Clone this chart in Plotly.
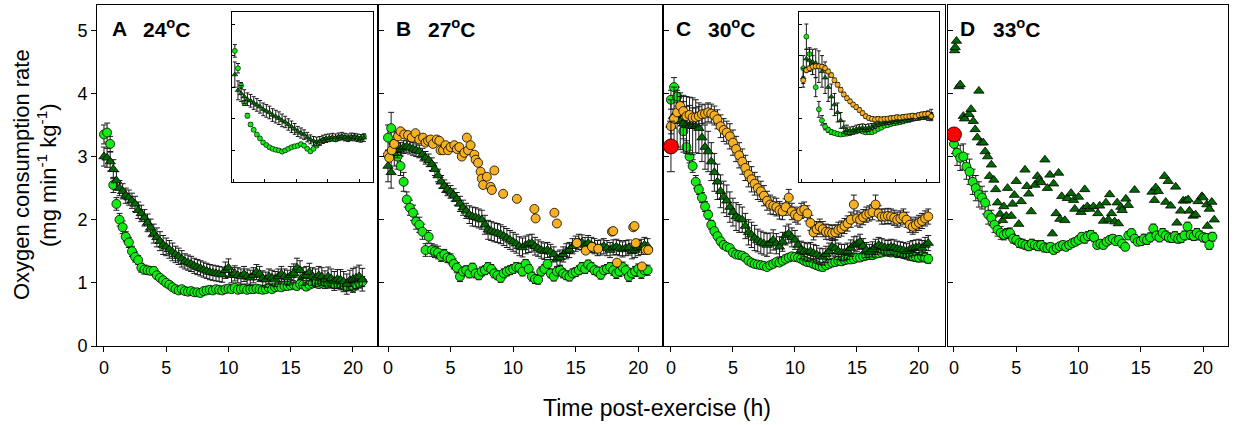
import plotly.graph_objects as go

# ---------------- data ----------------
# regular sampling grid (h) for averaged series
time_h = [i / 4 for i in range(84)]
inset_time_h = [0.25 + i / 2 for i in range(42)]

# Panel A (24 C)
a_light = [3.35,3.38,3.2,2.55,2.25,2.0,1.88,1.73,1.64,1.5,1.41,1.36,
           1.24,1.21,1.2,1.19,1.19,1.12,1.08,1.04,1.0,0.97,0.93,0.9,
           0.88,0.9,0.87,0.86,0.87,0.85,0.85,0.84,0.87,0.88,0.89,0.88,
           0.9,0.89,0.88,0.9,0.91,0.9,0.92,0.89,0.9,0.91,0.89,0.9,
           0.9,0.91,0.9,0.89,0.9,0.92,0.9,0.93,0.94,0.93,0.95,0.95,
           0.96,0.97,0.95,0.98,0.97,0.94,0.97,0.99,1.0,0.98,1.0,1.01,
           0.99,1.0,0.98,1.0,0.99,0.97,0.95,0.98,0.93,0.97,1.0,1.02]
a_light_err = [0.15,0.15,0.12,0.12,0.1,0.1,0.1,0.08,0.08,0.08,0.08,0.07,
               0.07,0.07,0.06,0.06,0.06,0.05,0.05,0.05,0.05,0.05,0.04,0.04,
               0.04,0.04,0.04,0.04,0.04,0.04,0.04,0.04,0.04,0.04,0.04,0.04,
               0.04,0.04,0.04,0.04,0.04,0.04,0.04,0.04,0.04,0.04,0.04,0.04,
               0.05,0.05,0.05,0.05,0.05,0.05,0.05,0.05,0.05,0.05,0.05,0.05,
               0.05,0.05,0.06,0.06,0.06,0.06,0.06,0.06,0.06,0.06,0.06,0.06,
               0.07,0.07,0.07,0.07,0.08,0.08,0.08,0.08,0.08,0.08,0.08,0.08]
a_dark = [3.0,2.98,2.92,2.8,2.62,2.5,2.45,2.38,2.35,2.3,2.25,2.15,
          2.1,2.03,1.95,1.87,1.78,1.72,1.66,1.6,1.57,1.53,1.49,1.45,
          1.42,1.38,1.34,1.32,1.3,1.27,1.25,1.23,1.21,1.19,1.17,1.16,
          1.15,1.14,1.13,1.2,1.24,1.12,1.15,1.12,1.1,1.14,1.1,1.08,
          1.12,1.17,1.14,1.07,1.05,1.1,1.08,1.06,1.1,1.14,1.1,1.08,
          1.12,1.15,1.24,1.2,1.1,1.12,1.17,1.1,1.08,1.12,1.1,1.05,
          1.1,1.07,1.03,1.06,1.05,1.02,0.98,1.04,1.06,1.08,1.1,1.05]
a_dark_err = [0.15,0.15,0.15,0.15,0.14,0.12,0.12,0.12,0.12,0.12,0.12,0.13,
              0.13,0.13,0.14,0.14,0.15,0.15,0.15,0.15,0.14,0.14,0.14,0.13,
              0.13,0.13,0.12,0.12,0.12,0.12,0.12,0.12,0.12,0.12,0.12,0.12,
              0.12,0.12,0.12,0.13,0.14,0.12,0.12,0.12,0.12,0.12,0.12,0.12,
              0.12,0.12,0.12,0.12,0.12,0.12,0.12,0.12,0.12,0.12,0.12,0.12,
              0.14,0.15,0.15,0.15,0.14,0.14,0.14,0.14,0.14,0.14,0.14,0.14,
              0.15,0.15,0.15,0.15,0.16,0.16,0.16,0.16,0.17,0.17,0.18,0.18]
ia_light = [4.15,3.6,3.05,2.5,2.1,1.82,1.65,1.5,1.38,1.25,1.17,1.1,1.05,1.02,
            1.0,0.96,1.0,1.05,1.1,1.13,1.15,1.2,1.15,1.05,0.97,1.05,1.15,1.25,
            1.32,1.35,1.35,1.38,1.35,1.4,1.42,1.4,1.38,1.4,1.42,1.38,1.37,1.45]
ia_light_err = [0.2,0.15,0.1,0.08,0.07,0.06,0.05,0.05,0.05,0.05,0.05,0.05,0.05,0.05,
                0.05,0.05,0.05,0.05,0.05,0.05,0.05,0.05,0.05,0.05,0.05,0.05,0.05,0.05,
                0.06,0.06,0.06,0.06,0.06,0.06,0.06,0.06,0.06,0.06,0.06,0.06,0.06,0.06]
ia_dark = [3.4,2.9,2.8,2.7,2.62,2.57,2.5,2.44,2.38,2.3,2.25,2.2,2.12,2.07,
           2.02,1.95,1.9,1.82,1.75,1.68,1.6,1.55,1.5,1.42,1.35,1.3,1.28,1.3,
           1.35,1.38,1.4,1.42,1.4,1.43,1.45,1.42,1.4,1.43,1.42,1.4,1.38,1.4]
ia_dark_err = [0.4,0.3,0.25,0.22,0.2,0.2,0.2,0.2,0.2,0.2,0.2,0.2,0.2,0.2,
               0.2,0.2,0.18,0.18,0.18,0.17,0.16,0.16,0.15,0.15,0.14,0.14,0.14,0.14,
               0.13,0.13,0.12,0.12,0.12,0.12,0.12,0.12,0.12,0.12,0.12,0.12,0.12,0.12]

# Panel B (27 C)
b_light = [3.3,3.45,3.2,3.0,2.85,2.6,2.32,2.19,2.11,1.97,1.92,1.81,
           1.52,1.73,1.52,1.5,1.48,1.42,1.45,1.4,1.38,1.3,1.24,1.1,
           1.18,1.2,1.15,1.24,1.15,1.12,1.18,1.2,1.25,1.22,1.15,1.12,
           1.08,1.15,1.18,1.2,1.22,1.25,1.24,1.18,1.3,1.22,1.1,1.06,
           1.05,1.18,1.22,1.3,1.15,1.1,1.18,1.2,1.15,1.12,1.1,1.15,
           1.17,1.2,1.25,1.22,1.29,1.25,1.2,1.18,1.13,1.2,1.22,1.25,
           1.2,1.15,1.18,1.25,1.2,1.1,1.15,1.18,1.22,1.15,1.2,1.2]
b_light_err = [0.2,0.25,0.2,0.2,0.15,0.15,0.12,0.12,0.12,0.12,0.12,0.12,
               0.1,0.1,0.1,0.1,0.1,0.08,0.08,0.08,0.08,0.08,0.08,0.08,
               0.07,0.07,0.07,0.07,0.07,0.07,0.07,0.07,0.07,0.07,0.07,0.07,
               0.07,0.07,0.07,0.07,0.07,0.07,0.07,0.07,0.07,0.07,0.07,0.07,
               0.07,0.07,0.07,0.07,0.07,0.07,0.07,0.07,0.07,0.07,0.07,0.07,
               0.07,0.07,0.07,0.07,0.07,0.07,0.07,0.07,0.07,0.07,0.07,0.07,
               0.08,0.08,0.08,0.08,0.08,0.08,0.08,0.08,0.08,0.08,0.08,0.08]
b_dark = [2.85,2.75,3.05,3.1,3.12,3.15,3.16,3.14,3.12,3.1,3.08,3.03,
          2.98,2.94,2.88,2.8,2.7,2.6,2.53,2.48,2.44,2.39,2.33,2.25,
          2.19,2.14,2.08,2.05,2.04,2.02,2.0,1.92,1.84,1.82,1.8,1.79,
          1.77,1.74,1.71,1.68,1.65,1.62,1.58,1.56,1.6,1.62,1.63,1.58,
          1.55,1.52,1.5,1.52,1.49,1.45,1.38,1.4,1.45,1.5,1.52,1.58,
          1.62,1.65,1.64,1.6,1.63,1.6,1.58,1.55,1.56,1.58,1.55,1.52,
          1.56,1.57,1.55,1.53,1.55,1.56,1.5,1.52,1.55,1.57,1.6,1.58]
b_dark_err = [0.25,0.25,0.2,0.12,0.1,0.1,0.1,0.1,0.1,0.1,0.1,0.1,
              0.1,0.1,0.1,0.1,0.1,0.1,0.1,0.1,0.1,0.1,0.1,0.12,
              0.12,0.12,0.14,0.15,0.15,0.15,0.15,0.15,0.15,0.15,0.15,0.15,
              0.15,0.15,0.15,0.15,0.15,0.15,0.15,0.15,0.14,0.14,0.14,0.14,
              0.13,0.13,0.13,0.12,0.12,0.12,0.12,0.12,0.12,0.12,0.12,0.12,
              0.12,0.12,0.12,0.12,0.12,0.12,0.12,0.12,0.12,0.12,0.12,0.12,
              0.12,0.12,0.12,0.12,0.12,0.12,0.12,0.12,0.12,0.12,0.12,0.12]
b_orange_t = [0.0,0.1,0.3,0.5,0.8,1.0,1.3,1.6,1.9,2.2,2.5,2.8,3.0,3.2,3.4,
              3.6,3.9,4.1,4.2,4.4,4.6,4.8,5.0,5.3,5.5,5.7,5.9,6.1,6.3,6.4,
              6.6,6.9,7.0,7.2,7.4,7.5,7.6,7.9,8.2,8.3,8.5,9.2,10.3,11.7,11.8,
              13.3,13.5,15.1,15.8,16.3,16.8,17.9,18.0,18.3,19.6,19.7,19.8,20.3,20.6,20.8]
b_orange = [3.03,2.98,3.1,3.2,3.32,3.4,3.35,3.34,3.3,3.37,3.27,3.3,3.22,3.25,3.27,
            3.2,3.27,3.25,3.1,3.1,3.18,3.1,3.15,3.18,3.12,3.15,3.0,3.06,3.3,3.1,
            3.18,3.03,2.95,2.9,2.76,2.65,2.55,2.68,2.52,2.47,2.78,2.41,2.33,2.17,2.02,
            2.11,1.94,1.63,1.51,1.57,1.54,1.81,1.82,1.32,1.88,1.9,1.63,1.26,1.52,1.52]

# Panel C (30 C)
c_light = [3.9,4.1,3.95,3.7,3.4,3.15,3.0,2.85,2.6,2.48,2.35,2.21,
           2.08,1.92,1.82,1.74,1.66,1.6,1.57,1.55,1.48,1.45,1.44,1.43,
           1.4,1.35,1.32,1.3,1.29,1.28,1.27,1.25,1.28,1.3,1.33,1.32,
           1.35,1.38,1.4,1.42,1.41,1.4,1.38,1.35,1.33,1.32,1.3,1.28,
           1.26,1.25,1.28,1.3,1.32,1.33,1.35,1.34,1.36,1.37,1.37,1.38,
           1.4,1.4,1.42,1.43,1.44,1.44,1.46,1.47,1.48,1.5,1.49,1.48,
           1.5,1.47,1.48,1.46,1.45,1.43,1.42,1.41,1.4,1.42,1.4,1.38]
c_light_err = [0.15,0.15,0.15,0.12,0.12,0.1,0.1,0.1,0.1,0.08,0.08,0.08,
               0.07,0.07,0.06,0.06,0.06,0.05,0.05,0.05,0.05,0.05,0.05,0.05,
               0.05,0.05,0.05,0.05,0.05,0.05,0.05,0.05,0.05,0.05,0.05,0.05,
               0.06,0.06,0.06,0.06,0.06,0.06,0.06,0.06,0.06,0.06,0.06,0.06,
               0.06,0.06,0.06,0.06,0.06,0.06,0.06,0.06,0.06,0.06,0.06,0.06,
               0.06,0.06,0.06,0.06,0.06,0.06,0.06,0.06,0.06,0.06,0.06,0.06,
               0.07,0.07,0.07,0.07,0.07,0.07,0.07,0.07,0.07,0.07,0.07,0.07]
c_dark = [3.5,3.65,3.6,3.56,3.52,3.5,3.49,3.48,3.48,3.45,3.3,3.15,
          3.08,2.92,2.75,2.6,2.45,2.36,2.3,2.2,2.12,2.05,2.02,2.0,
          1.9,1.8,1.76,1.71,1.67,1.64,1.62,1.6,1.63,1.68,1.62,1.57,
          1.65,1.75,1.78,1.72,1.68,1.6,1.52,1.5,1.48,1.5,1.47,1.45,
          1.42,1.41,1.45,1.5,1.57,1.55,1.5,1.48,1.48,1.5,1.55,1.6,
          1.62,1.65,1.58,1.52,1.49,1.53,1.57,1.6,1.58,1.56,1.55,1.57,
          1.56,1.54,1.53,1.52,1.5,1.53,1.55,1.56,1.57,1.55,1.6,1.63]
c_dark_err = [0.4,0.45,0.45,0.45,0.45,0.45,0.45,0.45,0.42,0.4,0.38,0.35,
              0.32,0.3,0.3,0.28,0.26,0.25,0.25,0.24,0.22,0.22,0.22,0.2,
              0.2,0.2,0.2,0.2,0.18,0.18,0.18,0.18,0.16,0.16,0.16,0.16,
              0.15,0.15,0.15,0.15,0.15,0.14,0.14,0.14,0.14,0.14,0.14,0.14,
              0.13,0.13,0.13,0.13,0.13,0.13,0.13,0.13,0.13,0.13,0.13,0.13,
              0.12,0.12,0.12,0.12,0.12,0.12,0.12,0.12,0.12,0.12,0.12,0.12,
              0.12,0.12,0.12,0.12,0.12,0.12,0.12,0.12,0.12,0.12,0.12,0.12]
c_orange = [3.48,3.6,3.7,3.8,3.72,3.64,3.66,3.62,3.62,3.64,3.67,3.68,
            3.7,3.68,3.65,3.59,3.48,3.42,3.38,3.32,3.22,3.12,3.02,2.92,
            2.82,2.72,2.64,2.57,2.5,2.45,2.38,2.3,2.24,2.22,2.2,2.15,
            2.13,2.2,2.35,2.13,2.08,2.05,2.14,2.16,2.1,1.95,1.8,1.85,
            1.89,1.85,1.81,1.8,1.79,1.8,1.84,1.86,1.9,1.94,2.0,2.24,
            2.02,2.0,2.04,2.08,2.1,2.12,2.24,2.1,2.05,2.05,2.06,2.05,
            2.03,2.0,2.02,2.05,2.0,1.92,1.89,1.92,1.95,1.98,2.02,2.05]
c_orange_err = [0.12,0.15,0.15,0.15,0.15,0.15,0.15,0.15,0.15,0.15,0.15,0.15,
                0.15,0.15,0.15,0.15,0.18,0.18,0.18,0.2,0.2,0.2,0.2,0.2,
                0.2,0.2,0.2,0.18,0.18,0.16,0.16,0.15,0.15,0.14,0.14,0.14,
                0.13,0.13,0.13,0.13,0.12,0.12,0.12,0.12,0.12,0.12,0.12,0.12,
                0.12,0.12,0.12,0.12,0.12,0.12,0.12,0.12,0.12,0.12,0.12,0.15,
                0.12,0.12,0.12,0.12,0.12,0.12,0.15,0.12,0.12,0.12,0.12,0.12,
                0.12,0.12,0.12,0.12,0.12,0.12,0.12,0.12,0.12,0.12,0.12,0.12]
c_red_t = [0.0]
c_red = [3.16]
c_red_err = [0.4]
ic_light = [3.6,4.6,4.05,3.7,3.0,2.3,1.95,1.75,1.65,1.58,1.55,1.52,1.5,1.52,
            1.53,1.55,1.58,1.6,1.64,1.6,1.57,1.58,1.58,1.62,1.68,1.72,1.78,1.8,
            1.84,1.86,1.88,1.9,1.92,1.95,1.97,2.0,2.02,2.04,2.05,2.08,2.1,2.1]
ic_light_err = [0.4,0.4,0.2,0.3,0.3,0.25,0.15,0.1,0.08,0.07,0.06,0.06,0.06,0.06,
                0.06,0.06,0.06,0.06,0.06,0.06,0.06,0.06,0.06,0.06,0.06,0.06,0.06,0.06,
                0.07,0.07,0.07,0.07,0.07,0.07,0.07,0.07,0.07,0.07,0.07,0.07,0.1,0.1]
ic_dark = [3.3,3.9,3.85,3.8,3.76,3.65,3.5,3.3,3.0,2.7,2.45,2.2,1.95,1.73,
           1.65,1.62,1.64,1.68,1.7,1.72,1.7,1.72,1.75,1.8,1.85,1.88,1.9,1.92,
           1.93,1.95,1.96,1.98,2.0,2.0,2.02,2.05,2.05,2.06,2.08,2.1,2.1,2.12]
ic_dark_err = [0.3,0.3,0.35,0.4,0.45,0.5,0.5,0.5,0.45,0.4,0.35,0.3,0.25,0.2,
               0.15,0.12,0.12,0.12,0.12,0.12,0.12,0.12,0.1,0.1,0.1,0.1,0.1,0.1,
               0.1,0.1,0.1,0.1,0.1,0.1,0.1,0.1,0.1,0.1,0.1,0.12,0.15,0.18]
ic_orange = [3.22,3.54,3.6,3.65,3.66,3.66,3.65,3.6,3.5,3.38,3.22,3.08,2.92,2.77,
             2.65,2.55,2.45,2.37,2.28,2.18,2.08,2.03,2.0,1.98,2.0,1.98,2.0,2.0,
             2.02,2.03,2.05,2.04,2.06,2.07,2.08,2.1,2.08,2.12,2.14,2.15,2.16,2.08]
ic_orange_err = [0.1,0.08,0.07,0.07,0.07,0.07,0.07,0.07,0.07,0.07,0.07,0.07,0.07,0.07,
                 0.07,0.07,0.07,0.07,0.07,0.07,0.07,0.07,0.07,0.07,0.07,0.07,0.07,0.07,
                 0.07,0.07,0.07,0.07,0.07,0.07,0.07,0.07,0.07,0.07,0.07,0.07,0.07,0.1]

# Panel D (33 C)
d_light = [3.2,3.06,2.98,3.0,2.84,2.76,2.6,2.5,2.4,2.35,2.27,2.08,
           2.03,1.92,1.84,1.79,1.76,1.78,1.79,1.7,1.68,1.63,1.62,1.6,
           1.58,1.62,1.6,1.58,1.6,1.56,1.55,1.57,1.52,1.55,1.58,1.6,
           1.57,1.6,1.63,1.65,1.68,1.73,1.7,1.74,1.76,1.72,1.6,1.62,
           1.6,1.65,1.68,1.7,1.66,1.68,1.62,1.57,1.75,1.79,1.7,1.65,
           1.66,1.7,1.68,1.72,1.86,1.75,1.72,1.79,1.75,1.72,1.71,1.74,
           1.7,1.71,1.75,1.89,1.76,1.74,1.79,1.75,1.72,1.71,1.6,1.73]
d_light_err = [0.15,0.2,0.2,0.2,0.2,0.2,0.2,0.2,0.2,0.18,0.18,0.15,
               0.12,0.12,0.1,0.1,0.08,0.08,0.08,0.07,0.07,0.07,0.07,0.07,
               0.07,0.07,0.07,0.07,0.07,0.07,0.06,0.06,0.06,0.06,0.06,0.06,
               0.06,0.06,0.06,0.06,0.06,0.06,0.07,0.07,0.07,0.07,0.06,0.06,
               0.06,0.06,0.06,0.06,0.06,0.06,0.06,0.06,0.06,0.06,0.06,0.06,
               0.07,0.07,0.07,0.07,0.07,0.07,0.07,0.07,0.07,0.07,0.07,0.07,
               0.07,0.07,0.07,0.07,0.07,0.07,0.07,0.07,0.07,0.07,0.07,0.07]
d_dark_t = [0.05,0.1,0.2,0.4,0.5,0.75,0.85,1.2,1.37,1.55,1.7,1.87,2.0,2.2,2.35,
            2.5,2.7,2.85,3.0,3.2,3.35,3.5,3.7,3.9,4.0,4.2,4.3,4.6,4.7,4.85,
            5.0,5.2,5.4,5.7,5.85,6.0,6.2,6.5,6.7,6.85,7.0,7.3,7.5,7.7,7.9,
            8.0,8.2,8.4,8.5,8.65,8.9,9.1,9.4,9.6,9.7,10.0,10.2,10.4,10.5,10.7,
            10.9,11.2,11.55,11.7,12.0,12.2,12.4,12.5,12.65,12.9,13.1,13.2,13.4,13.5,13.8,
            14.0,14.5,15.9,16.1,16.2,16.4,16.9,17.0,17.2,17.4,17.8,17.9,18.2,18.4,18.6,
            18.8,18.9,19.2,19.4,19.6,19.9,20.0,20.3,20.35,20.5,20.7,20.9]
d_dark = [4.68,4.73,4.83,4.11,4.14,3.64,3.6,3.67,3.75,3.56,3.43,3.3,4.04,3.22,3.22,
          3.08,3.0,2.69,2.87,2.63,2.48,2.27,2.09,1.99,2.21,2.06,2.5,2.06,2.25,2.39,
          2.61,1.93,2.29,2.79,2.53,2.41,2.13,2.55,2.69,2.63,2.59,2.95,2.5,2.71,1.78,
          2.57,2.1,2.74,2.01,2.37,1.99,2.34,2.42,2.31,2.17,2.36,2.12,2.17,2.48,2.21,
          2.17,2.21,2.1,2.22,1.98,2.27,2.0,2.4,2.1,1.97,2.27,1.94,2.2,2.15,2.33,
          2.23,2.47,2.44,2.31,2.51,2.45,2.69,2.28,2.61,2.22,2.52,1.95,2.14,2.3,2.3,
          2.32,2.14,2.06,2.08,2.29,2.37,2.35,2.24,1.9,2.17,2.28,2.0]
d_red_t = [0.0]
d_red = [3.35]
d_red_err = [0.05]

# ---------------- styling ----------------
W, H = 1235, 425
FONT = "Liberation Sans, Arial, sans-serif"
LIGHT = "rgb(20,235,20)"
DARK = "rgb(0,105,0)"
ORANGE = "rgb(246,176,36)"
RED = "rgb(255,0,0)"


def px(x):
    return x / W


def py(y):
    return 1 - y / H


def series(x, y, err, color, symbol, size, xa, ya, cap=3, lw=0.8):
    kw = {}
    if err is not None:
        kw["error_y"] = dict(type="data", array=err, visible=True,
                             color="rgb(25,25,25)", thickness=1, width=cap)
    return go.Scatter(x=x, y=y, mode="markers", xaxis=xa, yaxis=ya,
                      marker=dict(color=color, symbol=symbol, size=size,
                                  line=dict(color="black", width=lw)),
                      showlegend=False, hoverinfo="skip", **kw)


fig = go.Figure()
# Panel A
fig.add_trace(series(time_h, a_light, a_light_err, LIGHT, "circle", 9, "x", "y"))
fig.add_trace(series(time_h, a_dark, a_dark_err, DARK, "triangle-up", 9, "x", "y"))
# inset A
fig.add_trace(series(inset_time_h, ia_light, ia_light_err, LIGHT, "circle", 5, "x5", "y5", cap=2, lw=0.6))
fig.add_trace(series(inset_time_h, ia_dark, ia_dark_err, DARK, "triangle-up", 5, "x5", "y5", cap=2, lw=0.6))
# Panel B
fig.add_trace(series(time_h, b_light, b_light_err, LIGHT, "circle", 9, "x2", "y2"))
fig.add_trace(series(time_h, b_dark, b_dark_err, DARK, "triangle-up", 9, "x2", "y2"))
fig.add_trace(series(b_orange_t, b_orange, None, ORANGE, "circle", 9, "x2", "y2"))
# Panel C
fig.add_trace(series(time_h, c_light, c_light_err, LIGHT, "circle", 9, "x3", "y3"))
fig.add_trace(series(time_h, c_dark, c_dark_err, DARK, "triangle-up", 9, "x3", "y3"))
fig.add_trace(series(time_h, c_orange, c_orange_err, ORANGE, "circle", 9, "x3", "y3"))
fig.add_trace(series(c_red_t, c_red, c_red_err, RED, "circle", 15, "x3", "y3", cap=4))
# inset C
fig.add_trace(series(inset_time_h, ic_light, ic_light_err, LIGHT, "circle", 5, "x6", "y6", cap=2, lw=0.6))
fig.add_trace(series(inset_time_h, ic_dark, ic_dark_err, DARK, "triangle-up", 5, "x6", "y6", cap=2, lw=0.6))
fig.add_trace(series(inset_time_h, ic_orange, ic_orange_err, ORANGE, "circle", 5, "x6", "y6", cap=2, lw=0.6))
# Panel D
fig.add_trace(series(d_dark_t, d_dark, None, DARK, "triangle-up", 9, "x4", "y4"))
fig.add_trace(series(time_h, d_light, d_light_err, LIGHT, "circle", 9, "x4", "y4"))
fig.add_trace(series(d_red_t, d_red, d_red_err, RED, "circle", 15, "x4", "y4", cap=4))

panels = [  # left px, right px, x range
    (97, 377, [-0.56, 21.93]),
    (379, 662, [-0.72, 21.9]),
    (664, 945, [-0.56, 22.1]),
    (948, 1228, [-0.48, 22.0]),
]
ydom = [py(346), py(5)]
layout = dict(
    width=W, height=H, margin=dict(l=0, r=0, t=0, b=0),
    paper_bgcolor="white", plot_bgcolor="rgba(0,0,0,0)",
    font=dict(family=FONT, size=18, color="black"),
)
for i, (l, r, rng) in enumerate(panels):
    sfx = "" if i == 0 else str(i + 1)
    layout["xaxis" + sfx] = dict(
        domain=[px(l), px(r)], range=rng, anchor="y" + sfx,
        tickvals=[0, 5, 10, 15, 20], ticks="outside", ticklen=5, tickwidth=1,
        tickcolor="black", showline=True, linecolor="black", linewidth=1,
        mirror=True, showgrid=False, zeroline=False,
        tickfont=dict(size=18, family=FONT), automargin=False)
    layout["yaxis" + sfx] = dict(
        domain=ydom, range=[0, 5.4], anchor="x" + sfx,
        tickvals=[0, 1, 2, 3, 4, 5],
        ticks="outside" if i == 0 else "inside", ticklen=5, tickwidth=1,
        tickcolor="black", showticklabels=(i == 0),
        showline=True, linecolor="black", linewidth=1, mirror=True,
        showgrid=False, zeroline=False, tickfont=dict(size=18, family=FONT),
        automargin=False)

insets = [("5", 232, 373, [-0.2, 22.2]), ("6", 799, 939, [-0.43, 22.0])]
for sfx, l, r, rng in insets:
    layout["xaxis" + sfx] = dict(
        domain=[px(l), px(r)], range=rng, anchor="y" + sfx,
        tickvals=[0, 5, 10, 15, 20], ticks="inside", ticklen=3,
        tickcolor="black", showticklabels=False, showline=True,
        linecolor="black", linewidth=1, mirror=True, showgrid=False,
        zeroline=False, automargin=False)
    layout["yaxis" + sfx] = dict(
        domain=[py(182), py(12)], range=[0, 5.38], anchor="x" + sfx,
        tickvals=[1, 2, 3, 4, 5], ticks="inside", ticklen=3,
        tickcolor="black", showticklabels=False, showline=True,
        linecolor="black", linewidth=1, mirror=True, showgrid=False,
        zeroline=False, automargin=False)

fig.update_layout(**layout)

labels = [("A", 110, "24", 141), ("B", 394, "27", 426),
          ("C", 674, "30", 706), ("D", 958, "33", 991)]
for letter, lx, temp, tx in labels:
    fig.add_annotation(x=px(lx), y=py(28), xref="paper", yref="paper",
                       text="<b>" + letter + "</b>", showarrow=False,
                       xanchor="left", yanchor="middle",
                       font=dict(size=21, family=FONT))
    fig.add_annotation(x=px(tx), y=py(28), xref="paper", yref="paper",
                       text="<b>" + temp + "<sup>o</sup>C</b>", showarrow=False,
                       xanchor="left", yanchor="middle",
                       font=dict(size=21, family=FONT))

fig.add_annotation(x=px(657), y=py(408), xref="paper", yref="paper",
                   text="Time post-exercise (h)", showarrow=False,
                   xanchor="center", yanchor="middle",
                   font=dict(size=23, family=FONT))
fig.add_annotation(x=px(21), y=py(175), xref="paper", yref="paper",
                   text="Oxygen consumption rate", textangle=-90,
                   showarrow=False, xanchor="center", yanchor="middle",
                   font=dict(size=22, family=FONT))
fig.add_annotation(x=px(47), y=py(175), xref="paper", yref="paper",
                   text="(mg min<sup>-1</sup> kg<sup>-1</sup>)", textangle=-90,
                   showarrow=False, xanchor="center", yanchor="middle",
                   font=dict(size=22, family=FONT))

fig.write_html("out.html",
               config={"displayModeBar": False},
               post_script="document.body.style.margin='0';"
                           "document.body.style.overflow='hidden';")
